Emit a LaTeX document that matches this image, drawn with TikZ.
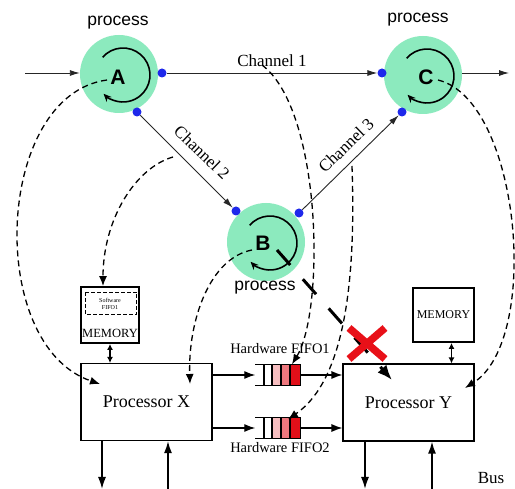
\documentclass[tikz,border=0pt]{standalone}
\usepackage{fontspec}
\setmainfont{Liberation Serif}
\newfontfamily\sansproc{Liberation Sans}
\usetikzlibrary{arrows.meta,calc}
\definecolor{procgreen}{RGB}{140,234,190}
\definecolor{portblue}{RGB}{30,40,235}
\definecolor{cellA}{RGB}{247,190,192}
\definecolor{cellB}{RGB}{238,120,126}
\definecolor{cellC}{RGB}{225,15,25}
\definecolor{crossred}{RGB}{232,16,24}
\begin{document}
\begin{tikzpicture}[x=1pt,y=-1pt,
  proc/.style={circle,fill=procgreen,minimum size=78pt,inner sep=0pt},
  letter/.style={font=\sansproc\bfseries\fontsize{21}{23}\selectfont,inner sep=0pt},
  ptag/.style={font=\sansproc\fontsize{17.5}{19}\selectfont,inner sep=0pt},
  port/.style={circle,fill=portblue,minimum size=9pt,inner sep=0pt},
  chan/.style={draw=black!85,line width=0.9pt,-{Latex[length=10pt,width=6pt]}},
  chlabel/.style={font=\fontsize{17}{19}\selectfont,inner sep=1pt},
  unit/.style={draw,line width=1.1pt,minimum width=131pt,minimum height=77pt,font=\fontsize{18}{20}\selectfont},
  membox/.style={draw,line width=1.8pt,inner sep=0pt},
  spin/.style={line width=1.6pt,-{Stealth[length=8pt,width=7pt]}},
  flow/.style={line width=1.3pt,dash pattern=on 6pt off 4pt,-{Latex[length=10pt,width=8pt]}},
  wire/.style={line width=1.2pt,-{Latex[length=11pt,width=8pt]}},
  buswire/.style={line width=1.6pt,-{Latex[length=12pt,width=8pt]}},
  memlink/.style={line width=1.3pt,{Latex[length=6pt,width=6pt]}-{Latex[length=6pt,width=6pt]}},
  hwlabel/.style={font=\fontsize{14.5}{16}\selectfont,inner sep=0pt},
]
\fill[white] (0,0) rectangle (515,489);
\useasboundingbox (0,0) rectangle (515,489);

% processes
\node[proc] (A) at (119,74) {};
\node[proc] (B) at (266,242) {};
\node[proc] (C) at (423,75) {};
\foreach \p in {A,B,C}{
  \draw[spin] ($(\p)+(4,1)+(139:27pt)$) arc[start angle=139,end angle=-136,radius=27pt];
}
\node[letter] (la) at (118,77) {A};
\node[letter] (lb) at (263,243) {B};
\node[letter] (lc) at (426,77) {C};
\node[ptag] at (118,23) {process};
\node[ptag] at (418,20) {process};
\node[ptag] at (265,288) {process};

% ports
\node[port] (pa1) at (162,73) {};
\node[port] (pa2) at (137,112) {};
\node[port] (pb1) at (236,211) {};
\node[port] (pb2) at (299,213) {};
\node[port] (pc1) at (382,73) {};
\node[port] (pc2) at (402,112) {};

% channels
\draw[chan] (pa1) -- (pc1);
\draw[chan] (pa2) -- (pb1);
\draw[chan] (pb2) -- (pc2);
\node[chlabel] at (272,61) {Channel 1};
\node[chlabel,rotate=-44] at (202,152.5) {Channel 2};
\node[chlabel,rotate=44] at (346,145.5) {Channel 3};

% external input and output
\coordinate (srcin) at (25,73);
\coordinate (sinkout) at (509,73);
\draw[chan] (srcin) -- (A.west |- srcin);
\draw[chan] (C.east |- sinkout) -- (sinkout);

% processors and memories
\node[unit] (px) at (146.5,402) {Processor X};
\node[unit] (py) at (408.5,402.5) {Processor Y};
\node[membox,minimum width=58pt,minimum height=56pt] (meml) at (110,315) {};
\draw[line width=1pt,dash pattern=on 4pt off 2pt] ($(meml.north west)+(5,6)$) rectangle ($(meml.north east)+(-3,28)$);
\node[font=\fontsize{6}{6.5}\selectfont,align=center,inner sep=0pt] at (110,304) {Software\\FIFO1};
\node[font=\fontsize{12.5}{14}\selectfont,inner sep=0pt] at (110,333) {MEMORY};
\node[membox,minimum width=61pt,minimum height=54pt,font=\fontsize{12}{14}\selectfont] (memr) at (443.5,315) {MEMORY};
\draw[memlink] (meml.south) -- (meml.south |- px.north);
\draw[memlink] ([xshift=8pt]memr.south) -- ([xshift=8pt]memr.south |- py.north);

% hardware FIFOs
\foreach \n/\yc in {fifoone/375,fifotwo/428}{
  \node[minimum width=45pt,minimum height=21pt,inner sep=0pt] (\n) at (278,\yc) {};
  \fill[cellA] (272,\yc-10.5) rectangle (281,\yc+10.5);
  \fill[cellB] (281,\yc-10.5) rectangle (290,\yc+10.5);
  \fill[cellC] (290,\yc-10.5) rectangle (300.5,\yc+10.5);
  \draw[line width=1.1pt] (\n.north west) -- (\n.north east) -- (\n.south east) -- (\n.south west);
  \foreach \xv in {264,272,281,290}{
    \draw[line width=1.1pt] (\xv,\yc-10.5) -- (\xv,\yc+10.5);
  }
  \draw[wire] (px.east |- \n) -- (\n.west);
  \draw[wire] (\n.east) -- (py.west |- \n);
}
\node[hwlabel] at (280,349) {Hardware FIFO1};
\node[hwlabel] at (280,448) {Hardware FIFO2};

% bus
\coordinate (xout) at (102,489);
\coordinate (xin) at (168,489);
\coordinate (yout) at (365,489);
\coordinate (yin) at (432,489);
\draw[buswire] (px.south -| xout) -- (xout);
\draw[buswire] (xin) -- (px.south -| xin);
\draw[buswire] (py.south -| yout) -- (yout);
\draw[buswire] (yin) -- (py.south -| yin);
\node[font=\fontsize{17}{19}\selectfont,inner sep=0pt] at (491,478) {Bus};

% mapping of processes and channels onto the platform
\coordinate (amap) at (107,80);
\coordinate (xleft) at (100,384);
\draw[flow] (amap) .. controls (-5,95) and (-15,345) .. (xleft);
\coordinate (bmap) at (252,250);
\coordinate (xtop) at (190,384);
\draw[flow] (bmap) .. controls (210,258) and (188,320) .. (xtop);
\coordinate (ctwo) at (173,157);
\draw[flow] (ctwo) .. controls (135,168) and (103,220) .. ([xshift=-7pt]meml.north);
\coordinate (cone) at (262,65);
\draw[flow] (cone) .. controls (322,110) and (325,310) .. ($(fifoone.north)+(14,0)$);
\coordinate (cthree) at (352,166);
\draw[flow] (cthree) .. controls (356,280) and (345,380) .. ($(fifotwo.north)+(10,2)$);
\coordinate (cmap) at (438,80);
\coordinate (yright) at (465,388);
\draw[flow] (cmap) .. controls (520,100) and (542,340) .. (yright);

% rejected direct mapping of B onto Y
\coordinate (bcut) at (277,250);
\coordinate (ytop) at (392,380);
\draw[line width=3pt,dash pattern=on 20pt off 19pt,-{Latex[length=15pt,width=12pt]}] (bcut) -- (ytop);
\draw[crossred,line width=7.5pt] (349,328) -- (385,359) (349,359) -- (385,328);
\end{tikzpicture}
\end{document}
